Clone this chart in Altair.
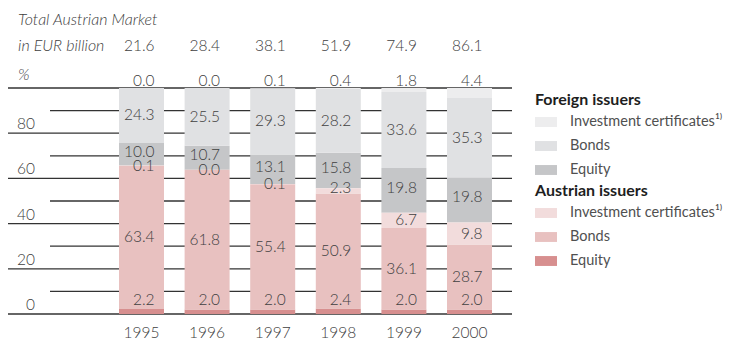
import altair as alt
import pandas as pd

years = ["1995", "1996", "1997", "1998", "1999", "2000"]
totals = [21.6, 28.4, 38.1, 51.9, 74.9, 86.1]
aut_equity = [2.2, 2.0, 2.0, 2.4, 2.0, 2.0]
aut_bonds = [63.4, 61.8, 55.4, 50.9, 36.1, 28.7]
aut_ic = [0.1, 0.0, 0.1, 2.3, 6.7, 9.8]
for_equity = [10.0, 10.7, 13.1, 15.8, 19.8, 19.8]
for_bonds = [24.3, 25.5, 29.3, 28.2, 33.6, 35.3]
for_ic = [0.0, 0.0, 0.1, 0.4, 1.8, 4.4]

ic_label = "Investment certificates¹⁾"
series = [
    ("ae", "Austrian issuers", "Equity", aut_equity),
    ("ab", "Austrian issuers", "Bonds", aut_bonds),
    ("ai", "Austrian issuers", ic_label, aut_ic),
    ("fe", "Foreign issuers", "Equity", for_equity),
    ("fb", "Foreign issuers", "Bonds", for_bonds),
    ("fi", "Foreign issuers", ic_label, for_ic),
]
legend_order = [ic_label, "Bonds", "Equity"]
foreign_colors = ["#ededee", "#e0e1e3", "#c5c6c8"]
austrian_colors = ["#f2dcdc", "#e8c1c0", "#d78f8f"]
grid_ticks = [0, 10, 20, 30, 40, 50, 60, 70, 80, 90, 100]

rows = []
for order, (key, group, label, vals) in enumerate(series):
    for y, v in zip(years, vals):
        rows.append({"year": y, "key": key, "group": group, "label": label,
                     "value": v, "order": order})
df = pd.DataFrame(rows)
head = pd.DataFrame({"year": years, "total": totals, "fi": for_ic})
grid = pd.DataFrame({"v": grid_ticks})

FONT = "Lato"
TXT = "#404040"
W, H = 504, 226

xscale = alt.Scale(domain=years, range=[111, 484], paddingInner=0.314, paddingOuter=0)
yscale = alt.Scale(domain=[0, 100])
xaxis = alt.Axis(title=None, domain=False, ticks=False, grid=False, labelPadding=11,
                 labelFont=FONT, labelFontSize=15.5, labelColor=TXT, labelFontWeight=300,
                 labelAngle=0)
X = alt.X("year:N", scale=xscale, axis=xaxis)

base = alt.Chart(df).transform_stack(
    stack="value", groupby=["year"], as_=["y0", "y1"],
    sort=[alt.SortField("order", order="ascending")]
)

rules_major = alt.Chart(grid).transform_filter("datum.v % 20 == 0").mark_rule(
    color="#333333", strokeWidth=1.3
).encode(
    y=alt.Y("v:Q", scale=yscale, axis=None),
    x=alt.value(-3), x2=alt.value(W),
)
rules_minor = alt.Chart(grid).transform_filter("datum.v % 20 != 0").mark_rule(
    color="#333333", strokeWidth=1.3
).encode(
    y=alt.Y("v:Q", scale=yscale, axis=None),
    x=alt.value(42), x2=alt.value(W),
)
ylabels = alt.Chart(grid).transform_filter("datum.v % 20 == 0 && datum.v < 100").mark_text(
    align="right", baseline="middle", dy=-9, font=FONT, fontSize=15.5, color=TXT, fontWeight=300
).encode(
    y=alt.Y("v:Q", scale=yscale, axis=None),
    x=alt.value(27),
    text=alt.Text("v:Q"),
)

common_legend = dict(
    orient="none", legendX=527, symbolType="M-1,-0.45H1V0.45H-1Z", symbolSize=484,
    symbolStrokeWidth=0, labelOffset=13, titleFont=FONT, titleFontSize=16,
    titleFontWeight="bold", titleColor="#1e1e1e", labelFont=FONT, labelFontSize=14.5,
    labelColor="#505050", rowPadding=6, titlePadding=3, padding=0,
)

bars_foreign = base.transform_filter("datum.group == 'Foreign issuers'").mark_bar().encode(
    x=X,
    y=alt.Y("y0:Q", scale=yscale, axis=None),
    y2="y1:Q",
    color=alt.Color("label:N", scale=alt.Scale(domain=legend_order, range=foreign_colors),
                    sort=legend_order,
                    legend=alt.Legend(title="Foreign issuers", legendY=4, **common_legend)),
)
bars_austrian = base.transform_filter("datum.group == 'Austrian issuers'").mark_bar().encode(
    x=X,
    y=alt.Y("y0:Q", scale=yscale, axis=None),
    y2="y1:Q",
    color=alt.Color("label:N", scale=alt.Scale(domain=legend_order, range=austrian_colors),
                    sort=legend_order,
                    legend=alt.Legend(title="Austrian issuers", legendY=95, **common_legend)),
)

seg_labels = base.transform_filter("datum.key != 'fi'").transform_calculate(
    ly=("datum.key == 'ae' ? datum.y1 + 4 : "
        "(datum.key == 'ai' && datum.value < 3 ? datum.y1 : "
        "(datum.key == 'fe' ? (datum.y0 + datum.y1) / 2 + 1.2 : (datum.y0 + datum.y1) / 2))"),
    txt="format(datum.value, '.1f')",
).mark_text(
    align="right", baseline="middle", dx=13, font=FONT, fontSize=15.5, color=TXT, fontWeight=300
).encode(
    x=X,
    y=alt.Y("ly:Q", scale=yscale, axis=None),
    text="txt:N",
)

head_base = alt.Chart(head).transform_calculate(
    t1="format(datum.total, '.1f')", t2="format(datum.fi, '.1f')"
)
total_row = head_base.mark_text(
    align="right", baseline="middle", dx=13, font=FONT, fontSize=15.5, color=TXT, fontWeight=300
).encode(x=X, y=alt.value(-42), text="t1:N")
pct_row = head_base.mark_text(
    align="right", baseline="middle", dx=13, font=FONT, fontSize=15.5, color=TXT, fontWeight=300
).encode(x=X, y=alt.value(-7), text="t2:N")

title_lines = ["Total Austrian Market", "in EUR billion", "%"]
title_y = [-68, -42, -13]
title_layers = [
    alt.Chart(pd.DataFrame({"t": [line]})).mark_text(
        align="left", baseline="middle", font=FONT, fontSize=16, fontStyle="italic",
        color=TXT, fontWeight=300
    ).encode(x=alt.value(10), y=alt.value(ty), text="t:N")
    for line, ty in zip(title_lines, title_y)
]

chart = alt.layer(
    rules_major, rules_minor, ylabels, bars_foreign, bars_austrian, seg_labels,
    total_row, pct_row, *title_layers,
).resolve_scale(color="independent").properties(
    width=W, height=H,
    autosize=alt.AutoSizeParams(type="none"),
    padding={"left": 0, "top": 80, "right": 214, "bottom": 25},
).configure_view(stroke=None)

chart.save("out.html", embed_options={"renderer": "svg", "actions": False})
